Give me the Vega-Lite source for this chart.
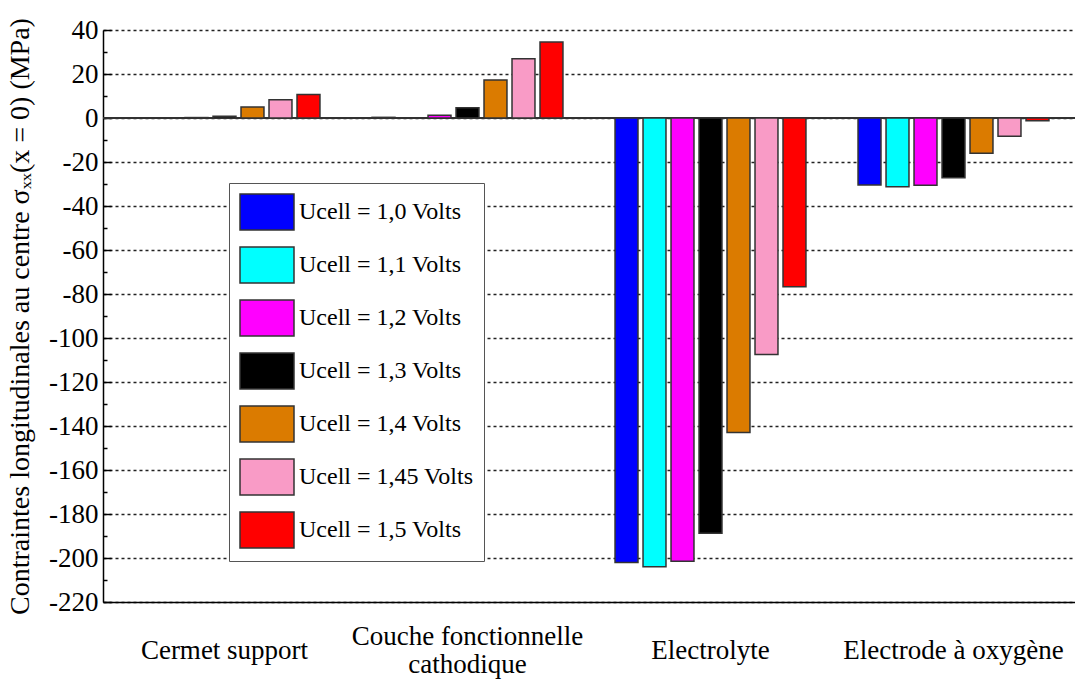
{
  "$schema": "https://vega.github.io/schema/vega-lite/v6.json",
  "width": 972,
  "height": 572,
  "autosize": {"type": "none"},
  "padding": {"left": 103, "top": 30, "right": 0, "bottom": 78},
  "background": "white",
  "config": {
    "view": {"stroke": null},
    "font": "Liberation Serif, serif"
  },
  "data": {
    "values": [
      {"couche": "Cermet support", "U": "Ucell = 1,0 Volts", "s": 0},
      {"couche": "Cermet support", "U": "Ucell = 1,1 Volts", "s": 0},
      {"couche": "Cermet support", "U": "Ucell = 1,2 Volts", "s": 0.2},
      {"couche": "Cermet support", "U": "Ucell = 1,3 Volts", "s": 0.8},
      {"couche": "Cermet support", "U": "Ucell = 1,4 Volts", "s": 5},
      {"couche": "Cermet support", "U": "Ucell = 1,45 Volts", "s": 8.3},
      {"couche": "Cermet support", "U": "Ucell = 1,5 Volts", "s": 10.7},
      {"couche": "Couche fonctionnelle cathodique", "U": "Ucell = 1,0 Volts", "s": 0.3},
      {"couche": "Couche fonctionnelle cathodique", "U": "Ucell = 1,1 Volts", "s": 0},
      {"couche": "Couche fonctionnelle cathodique", "U": "Ucell = 1,2 Volts", "s": 1.2},
      {"couche": "Couche fonctionnelle cathodique", "U": "Ucell = 1,3 Volts", "s": 4.7},
      {"couche": "Couche fonctionnelle cathodique", "U": "Ucell = 1,4 Volts", "s": 17.3},
      {"couche": "Couche fonctionnelle cathodique", "U": "Ucell = 1,45 Volts", "s": 26.9},
      {"couche": "Couche fonctionnelle cathodique", "U": "Ucell = 1,5 Volts", "s": 34.5},
      {"couche": "Electrolyte", "U": "Ucell = 1,0 Volts", "s": -202},
      {"couche": "Electrolyte", "U": "Ucell = 1,1 Volts", "s": -204},
      {"couche": "Electrolyte", "U": "Ucell = 1,2 Volts", "s": -201.5},
      {"couche": "Electrolyte", "U": "Ucell = 1,3 Volts", "s": -188.7},
      {"couche": "Electrolyte", "U": "Ucell = 1,4 Volts", "s": -143},
      {"couche": "Electrolyte", "U": "Ucell = 1,45 Volts", "s": -107.5},
      {"couche": "Electrolyte", "U": "Ucell = 1,5 Volts", "s": -76.7},
      {"couche": "Electrode à oxygène", "U": "Ucell = 1,0 Volts", "s": -30.5},
      {"couche": "Electrode à oxygène", "U": "Ucell = 1,1 Volts", "s": -31.3},
      {"couche": "Electrode à oxygène", "U": "Ucell = 1,2 Volts", "s": -30.6},
      {"couche": "Electrode à oxygène", "U": "Ucell = 1,3 Volts", "s": -27.2},
      {"couche": "Electrode à oxygène", "U": "Ucell = 1,4 Volts", "s": -16},
      {"couche": "Electrode à oxygène", "U": "Ucell = 1,45 Volts", "s": -8.3},
      {"couche": "Electrode à oxygène", "U": "Ucell = 1,5 Volts", "s": -1.2}
    ]
  },
  "resolve": {"axis": {"y": "independent"}},
  "layer": [
    {
      "mark": {"type": "rule", "color": "#333", "strokeWidth": 1.5},
      "encoding": {
        "y": {
          "datum": 0, "type": "quantitative",
          "scale": {"domain": [-220, 40], "nice": false, "zero": false},
          "axis": {
            "orient": "left", "title": null, "labels": false, "domain": false, "grid": false,
            "values": [30, 10, -10, -30, -50, -70, -90, -110, -130, -150, -170, -190, -210],
            "ticks": true, "tickSize": -4, "tickColor": "#000", "tickWidth": 1.5
          }
        }
      }
    },
    {
      "mark": {"type": "bar", "stroke": "#333", "strokeWidth": 1.5},
      "encoding": {
        "x": {
          "field": "couche", "type": "nominal",
          "sort": ["Cermet support", "Couche fonctionnelle cathodique", "Electrolyte", "Electrode à oxygène"],
          "scale": {"paddingInner": 0, "paddingOuter": 0},
          "axis": {
            "title": null, "labelAngle": 0, "ticks": false,
            "domain": true, "domainColor": "#000", "domainWidth": 1.5,
            "labelFontSize": 27, "labelColor": "#000", "labelFont": "Liberation Serif, serif",
            "labelBaseline": "middle", "labelLineHeight": 28, "labelLimit": 400,
            "labelPadding": {"condition": {"test": "datum.value == 'Couche fonctionnelle cathodique'", "value": 34}, "value": 48},
            "labelExpr": "datum.value == 'Couche fonctionnelle cathodique' ? ['Couche fonctionnelle', 'cathodique'] : datum.value"
          }
        },
        "xOffset": {
          "field": "U", "type": "nominal",
          "sort": ["Ucell = 1,0 Volts", "Ucell = 1,1 Volts", "Ucell = 1,2 Volts", "Ucell = 1,3 Volts", "Ucell = 1,4 Volts", "Ucell = 1,45 Volts", "Ucell = 1,5 Volts"],
          "scale": {"paddingInner": 0.18, "paddingOuter": 0.93}
        },
        "y": {
          "field": "s", "type": "quantitative",
          "scale": {"domain": [-220, 40], "nice": false, "zero": false},
          "axis": {
            "orient": "left",
            "title": "Contraintes longitudinales au centre σₓₓ(x = 0) (MPa)",
            "titleFontSize": 28, "titleFontWeight": "normal", "titleColor": "#000", "titleFont": "Liberation Serif, serif",
            "titlePadding": 14,
            "values": [40, 20, 0, -20, -40, -60, -80, -100, -120, -140, -160, -180, -200, -220],
            "labelExpr": "toString(datum.value)",
            "labelFontSize": 27, "labelColor": "#000", "labelFont": "Liberation Serif, serif", "labelPadding": 13,
            "domain": true, "domainColor": "#000", "domainWidth": 1.5,
            "ticks": true, "tickSize": -8, "tickColor": "#000", "tickWidth": 1.5,
            "grid": true, "gridDash": [3, 3], "gridColor": "#222", "gridWidth": 1.3
          }
        },
        "color": {
          "field": "U", "type": "nominal",
          "scale": {
            "domain": ["Ucell = 1,0 Volts", "Ucell = 1,1 Volts", "Ucell = 1,2 Volts", "Ucell = 1,3 Volts", "Ucell = 1,4 Volts", "Ucell = 1,45 Volts", "Ucell = 1,5 Volts"],
            "range": ["#0000FF", "#00FFFF", "#FF00FF", "#000000", "#DB7B00", "#F99BC6", "#FF0000"]
          },
          "legend": {
            "title": null, "orient": "none", "legendX": 126, "legendY": 153,
            "fillColor": "white", "strokeColor": "#555", "padding": 10,
            "symbolType": "M-1.5,-1H1.5V1H-1.5Z", "symbolSize": 1296,
            "symbolOffset": 9, "symbolStrokeColor": "#333", "symbolStrokeWidth": 1.5, "symbolOpacity": 1,
            "labelOffset": 13, "labelFontSize": 24, "labelFont": "Liberation Serif, serif", "labelColor": "#000",
            "rowPadding": 11, "labelLimit": 300
          }
        }
      }
    }
  ]
}
